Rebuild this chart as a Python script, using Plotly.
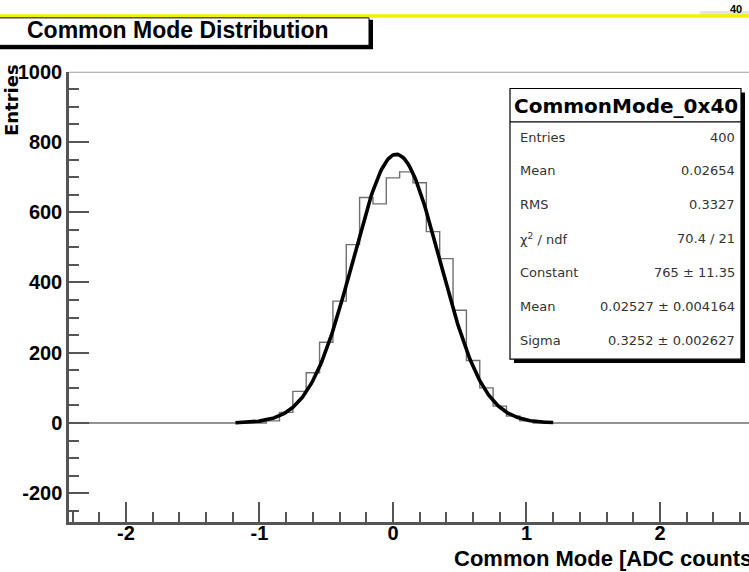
import math
import plotly.graph_objects as go

# Histogram of the common-mode values (bin centres, entries per bin)
bin_centers = [-0.9, -0.8, -0.7, -0.6, -0.5, -0.4, -0.3, -0.2, -0.1, 0.0,
               0.1, 0.2, 0.3, 0.4, 0.5, 0.6, 0.7, 0.8, 0.9, 1.0]
bin_counts = [6, 30, 90, 143, 230, 347, 508, 642, 624, 698,
              715, 684, 545, 468, 321, 178, 100, 48, 20, 6]
bin_width = 0.1
hist_range = [-2.5, 2.8]

# Gaussian fit results
fit_constant = 765.0
fit_mean = 0.02527
fit_sigma = 0.3252
fit_range = [-1.18, 1.2]

# Statistics box contents
stats_title = "CommonMode_0x40"
stats_labels = ["Entries", "Mean", "RMS", "χ<sup>2</sup> / ndf", "Constant", "Mean", "Sigma"]
stats_values = ["400", "0.02654", "0.3327", "70.4 / 21", "765 ± 11.35",
                "0.02527 ± 0.004164", "0.3252 ± 0.002627"]

x_ticks = [-2, -1, 0, 1, 2]
y_ticks = [-200, 0, 200, 400, 600, 800, 1000]

W, H = 749, 572
X_RANGE = [-2.427, 2.667]
Y_RANGE = [-282, 1000]


def px(x):
    return x / W


def py(y):
    return 1 - y / H


# Step outline of the histogram, with empty bins along zero over the full range
step_x = [hist_range[0]]
step_y = [0]
for c, n in zip(bin_centers, bin_counts):
    step_x.append(round(c - bin_width / 2, 4))
    step_y.append(n)
step_x.append(round(bin_centers[-1] + bin_width / 2, 4))
step_y.append(0)
step_x.append(hist_range[1])
step_y.append(0)

# Fit curve evaluated from the fitted parameters
n_pts = 240
fit_x = [fit_range[0] + (fit_range[1] - fit_range[0]) * i / (n_pts - 1) for i in range(n_pts)]
fit_y = [fit_constant * math.exp(-0.5 * ((x - fit_mean) / fit_sigma) ** 2) for x in fit_x]

fig = go.Figure()
fig.add_trace(go.Scatter(x=step_x, y=step_y, mode="lines", line_shape="hv",
                         line=dict(color="#707070", width=1.4), hoverinfo="skip"))
fig.add_trace(go.Scatter(x=fit_x, y=fit_y, mode="lines",
                         line=dict(color="black", width=3.6), hoverinfo="skip"))

axis_col = "#555555"
bold = dict(family="Liberation Sans", size=20, color="black", weight="bold")

fig.update_layout(
    width=W, height=H, margin=dict(l=0, r=0, t=0, b=0),
    paper_bgcolor="white", plot_bgcolor="white", showlegend=False,
    xaxis=dict(domain=[px(69), 1], range=X_RANGE, tickvals=x_ticks,
               ticktext=[str(v) if v >= 0 else "-" + str(-v) for v in x_ticks],
               ticks="inside", ticklen=20, tickwidth=1.5, tickcolor=axis_col,
               minor=dict(dtick=0.2, tick0=0, ticks="inside", ticklen=10,
                          tickwidth=1.5, tickcolor=axis_col),
               showline=True, linecolor=axis_col, linewidth=2.5,
               showgrid=False, zeroline=False, tickfont=bold, ticklabelstandoff=-9),
    yaxis=dict(domain=[py(521), py(62)], range=Y_RANGE, tickvals=y_ticks,
               ticktext=[str(v) if v >= 0 else "-" + str(-v) for v in y_ticks],
               ticks="inside", ticklen=20, tickwidth=1.5, tickcolor=axis_col,
               minor=dict(dtick=50, tick0=0, ticks="inside", ticklen=10,
                          tickwidth=1.5, tickcolor=axis_col),
               showline=True, linecolor=axis_col, linewidth=2.5,
               showgrid=False, zeroline=False, tickfont=bold),
)

shapes = []
annots = []

# Top frame edge
shapes.append(dict(type="line", xref="x", yref="y", x0=X_RANGE[0], x1=X_RANGE[1],
                   y0=Y_RANGE[1], y1=Y_RANGE[1], line=dict(color="#777777", width=1.2)))

# Yellow band along the top of the canvas, and the corner tab
shapes.append(dict(type="rect", xref="paper", yref="paper", x0=px(700), x1=px(749),
                   y0=py(0), y1=py(6), fillcolor="#e4e4e4", line=dict(width=0)))
shapes.append(dict(type="line", xref="paper", yref="paper", x0=0, x1=1,
                   y0=py(5), y1=py(5), line=dict(color="#f2f200", width=3.5)))
annots.append(dict(text="40", xref="paper", yref="paper", x=px(736), y=py(-2),
                   xanchor="center", yanchor="middle", showarrow=False,
                   font=dict(family="Liberation Sans", size=11, color="black", weight="bold")))

# Title box with drop shadow
shapes.append(dict(type="rect", xref="paper", yref="paper", x0=px(-10), x1=px(373),
                   y0=py(39), y1=py(9), fillcolor="black", line=dict(width=0)))
shapes.append(dict(type="rect", xref="paper", yref="paper", x0=px(-10), x1=px(369),
                   y0=py(35), y1=py(7), fillcolor="white", line=dict(color="black", width=1)))
annots.append(dict(text="Common Mode Distribution", xref="paper", yref="paper",
                   x=px(178), y=py(19), xanchor="center", yanchor="middle", showarrow=False,
                   font=dict(family="Liberation Sans", size=23, color="black", weight="bold")))

# Statistics box with drop shadow
bx0, bx1, by0, by1 = 510, 741, 79, 355
shapes.append(dict(type="rect", xref="paper", yref="paper", x0=px(bx0 + 4), x1=px(bx1 + 4),
                   y0=py(by1 + 4), y1=py(by0 + 4), fillcolor="black", line=dict(width=0)))
shapes.append(dict(type="rect", xref="paper", yref="paper", x0=px(bx0), x1=px(bx1),
                   y0=py(by1), y1=py(by0), fillcolor="white", line=dict(color="black", width=1.2)))
shapes.append(dict(type="line", xref="paper", yref="paper", x0=px(bx0), x1=px(bx1),
                   y0=py(113), y1=py(113), line=dict(color="black", width=1.2)))
annots.append(dict(text=stats_title, xref="paper", yref="paper", x=px((bx0 + bx1) / 2),
                   y=py(97), xanchor="center", yanchor="middle", showarrow=False,
                   font=dict(family="DejaVu Sans", size=20, color="black", weight="bold")))
row_y = [129, 163, 197, 232, 267, 301, 336]
small = dict(family="DejaVu Sans", size=13, color="#333333")
for lab, val, yy in zip(stats_labels, stats_values, row_y):
    annots.append(dict(text=lab, xref="paper", yref="paper", x=px(518), y=py(yy),
                       xanchor="left", yanchor="middle", showarrow=False, font=small))
    annots.append(dict(text=val, xref="paper", yref="paper", x=px(737), y=py(yy),
                       xanchor="right", yanchor="middle", showarrow=False, font=small))

# Axis titles
annots.append(dict(text="Entries", xref="paper", yref="paper", x=px(11), y=py(52),
                   xanchor="center", yanchor="top", textangle=-90, showarrow=False,
                   font=dict(family="DejaVu Sans", size=18, color="black", weight="bold")))
annots.append(dict(text="Common Mode [ADC counts]", xref="paper", yref="paper",
                   x=px(452), y=py(558), xanchor="left", yanchor="middle", showarrow=False,
                   font=dict(family="Liberation Sans", size=22, color="black", weight="bold")))

fig.update_layout(shapes=shapes, annotations=annots)
fig.write_html("out.html")
